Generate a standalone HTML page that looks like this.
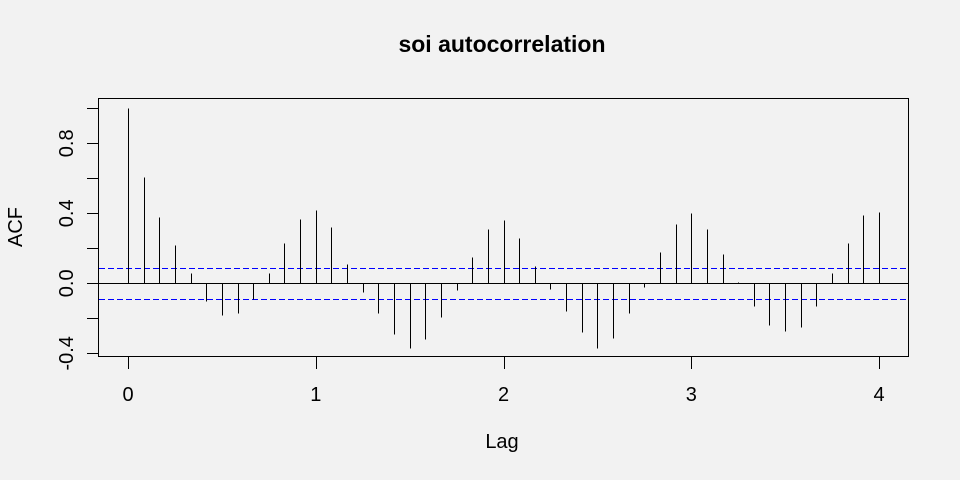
<!DOCTYPE html>
<html><head><meta charset="utf-8"><style>
body{margin:0;background:#f2f2f2;}
svg{display:block;font-family:"Liberation Sans",Arial,sans-serif;}
</style></head><body>
<svg id="chart" width="960" height="480">
<rect width="960" height="480" fill="#f2f2f2"/>
<text x="502" y="52" text-anchor="middle" font-size="23" font-weight="bold">soi autocorrelation</text>
<text x="502" y="448" text-anchor="middle" font-size="20">Lag</text>
<text transform="translate(22,227) rotate(-90)" text-anchor="middle" font-size="20">ACF</text>
<g id="marks"></g>
<rect x="98.5" y="98.5" width="810" height="258" fill="none" stroke="#000" stroke-width="1"/>
</svg>
<script>
const lags = [0,1,2,3,4,5,6,7,8,9,10,11,12,13,14,15,16,17,18,19,20,21,22,23,24,25,26,27,28,29,30,31,32,33,34,35,36,37,38,39,40,41,42,43,44,45,46,47,48];
const acfValues = [1.0,0.61,0.38,0.22,0.06,-0.10,-0.18,-0.17,-0.09,0.06,0.23,0.37,0.42,0.32,0.11,-0.05,-0.17,-0.29,-0.37,-0.32,-0.19,-0.04,0.15,0.31,0.36,0.26,0.10,-0.03,-0.16,-0.28,-0.37,-0.31,-0.17,-0.02,0.18,0.34,0.40,0.31,0.17,0.01,-0.13,-0.24,-0.27,-0.25,-0.13,0.06,0.23,0.39,0.41];
const xTicks = [0,1,2,3,4];
const yTicks = [-0.4,-0.2,0.0,0.2,0.4,0.6,0.8,1.0];
const yTickLabels = ["-0.4","","0.0","","0.4","","0.8",""];
const confBound = 0.09;
const NS="http://www.w3.org/2000/svg";
const X = v => 128 + v*187.75;
const Y = v => 283.3 - v*175;
const g = document.getElementById('marks');
function mk(tag, attrs){const e=document.createElementNS(NS,tag);for(const k in attrs)e.setAttribute(k,attrs[k]);g.appendChild(e);return e;}
const py = v => Math.round(Y(v))+0.5;
let z=mk('line',{x1:98,x2:909,y1:py(0),y2:py(0),stroke:'#000','stroke-width':1});


[confBound,-confBound].forEach(c=>{
  const l=mk('line',{x1:99,x2:908,y1:py(c),y2:py(c),stroke:'#0000ff','stroke-width':1,'stroke-dasharray':'6,3'});
  
  
});
lags.forEach((k,i)=>{
  const x=Math.round(X(k/12))+0.5;
  const b=mk('line',{x1:x,x2:x,y1:py(0),y2:py(acfValues[i]),stroke:'#000','stroke-width':1});
  
  
});
xTicks.forEach(t=>{
  const x=Math.round(X(t))+0.5;
  const l=mk('line',{x1:x,x2:x,y1:357,y2:369,stroke:'#000'});
  
  
  const tx=mk('text',{x:X(t),y:401,'text-anchor':'middle','font-size':20});
  tx.textContent=t;
  
  
});
yTicks.forEach((t,i)=>{
  const y=py(t);
  const l=mk('line',{x1:87,x2:98,y1:y,y2:y,stroke:'#000'});
  
  
  if(yTickLabels[i]){
    const tx=mk('text',{transform:`translate(73,${Y(t)}) rotate(-90)`,'text-anchor':'middle','font-size':20});
    tx.textContent=yTickLabels[i];
    
    
  }
});
</script>
</body></html>
